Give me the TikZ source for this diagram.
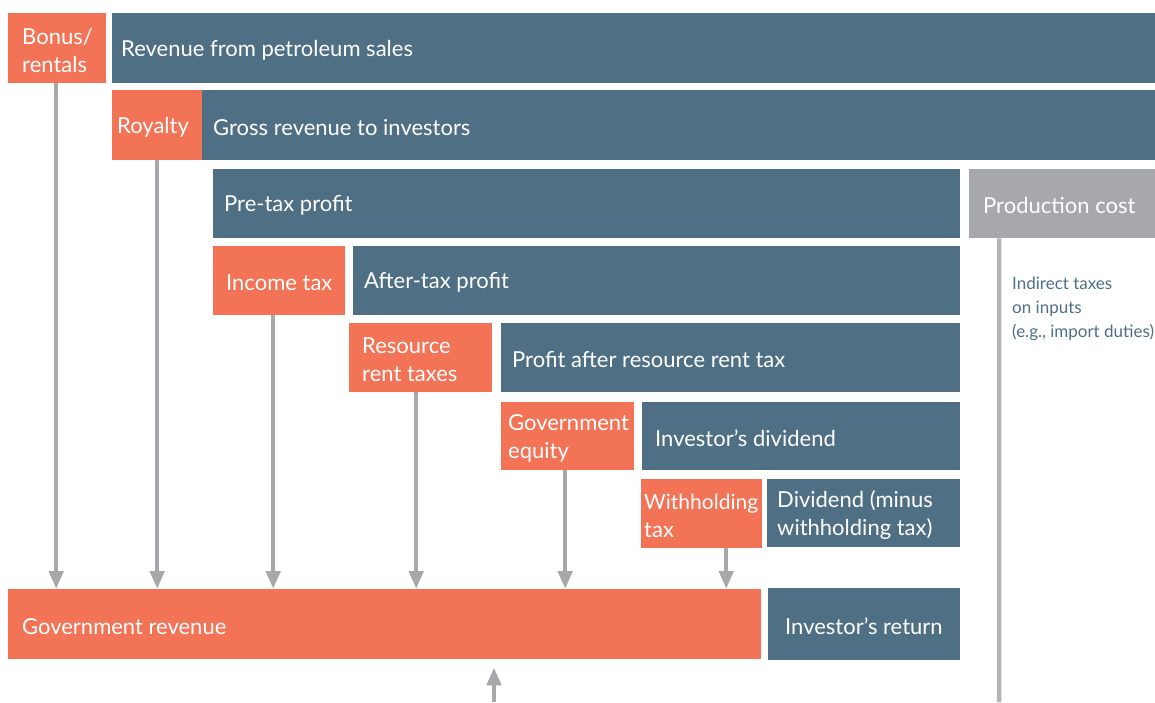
\documentclass[tikz,border=0pt]{standalone}
\usepackage{fontspec}
\setmainfont{Lato}
\usetikzlibrary{arrows.meta}
\definecolor{orng}{HTML}{F37357}
\definecolor{slate}{HTML}{4F6F84}
\definecolor{cost}{HTML}{A7A8AB}
\definecolor{arrg}{HTML}{A8A8AB}
\newcommand{\bx}[8]{%
  \pgfmathsetmacro{\bw}{#4-#2}\pgfmathsetmacro{\bh}{#5-#3}%
  \node[#6, anchor=north west, minimum width=\bw pt, minimum height=\bh pt, inner sep=0pt] (#1) at (#2,#3) {};
  \node[boxtext, anchor=west] (#1t) at ([xshift=#7pt, yshift=-2pt]#1.west) {#8};}
\begin{document}
\begin{tikzpicture}[x=1pt,y=-1pt,
  boxtext/.style={inner sep=0pt, align=left, text=white, font=\fontsize{22}{28}\selectfont},
  ob/.style={fill=orng},
  sb/.style={fill=slate},
  gb/.style={fill=cost},
  arr/.style={draw=arrg, line width=4.5pt, -{Triangle[width=14pt,length=18pt]}},
  plain/.style={draw=arrg!85, line width=4.5pt}]
\useasboundingbox (0,0) rectangle (1155,702);
\bx{bonus}{8}{13}{106}{83}{ob}{14}{Bonus/\\rentals}
\bx{rev}{112}{13}{1155}{83}{sb}{9}{Revenue from petroleum sales}
\bx{roy}{112}{90}{202}{160}{ob}{5}{Royalty}
\bx{gross}{202}{90}{1155}{160}{sb}{11}{Gross revenue to investors}
\bx{pretax}{213}{169}{960}{238}{sb}{11}{Pre-tax profit}
\bx{prod}{969}{169}{1155}{238}{gb}{14}{Production cost}
\bx{inc}{213}{246}{345}{315}{ob}{13}{Income tax}
\bx{after}{353}{246}{960}{315}{sb}{11}{After-tax profit}
\bx{rrt}{349}{323}{492}{392}{ob}{13}{Resource\\rent taxes}
\bx{parrt}{501}{323}{960}{392}{sb}{11}{Profit after resource rent tax}
\bx{geq}{501}{402}{634}{470}{ob}{7}{Government\\equity}
\bx{idiv}{642}{402}{960}{470}{sb}{13}{Investor’s dividend}
\bx{wht}{641}{479}{762}{548}{ob}{3}{\fontsize{21}{27}\selectfont Withholding\\tax}
\bx{div}{767}{479}{960}{547}{sb}{10}{Dividend (minus\\withholding tax)}
\bx{gov}{8}{589}{761}{659}{ob}{14}{Government revenue}
\bx{iret}{768}{588}{960}{660}{sb}{17}{Investor’s return}
\node[anchor=north west, align=left, text=slate, inner sep=0pt, font=\fontsize{17}{24}\selectfont] (ind) at (1012,277) {Indirect taxes\\on inputs\\(e.g., import duties)};
\draw[arr] ([xshift=-1pt]bonus.south) -- ([xshift=-1pt]bonus.south |- gov.north);
\draw[arr] (roy.south) -- (roy.south |- gov.north);
\draw[arr] ([xshift=-6pt]inc.south) -- ([xshift=-6pt]inc.south |- gov.north);
\draw[arr] ([xshift=-4.5pt]rrt.south) -- ([xshift=-4.5pt]rrt.south |- gov.north);
\draw[arr] ([xshift=-2.5pt]geq.south) -- ([xshift=-2.5pt]geq.south |- gov.north);
\draw[arr] ([xshift=24.5pt]wht.south) -- ([xshift=24.5pt]wht.south |- gov.north);
\coordinate (src) at (494,702);
\draw[arr, shorten >=8pt] (src) -- (src |- gov.south);
\coordinate (pend) at (999,702);
\draw[plain] ([xshift=-63pt]prod.south) -- (pend);
\end{tikzpicture}
\end{document}
